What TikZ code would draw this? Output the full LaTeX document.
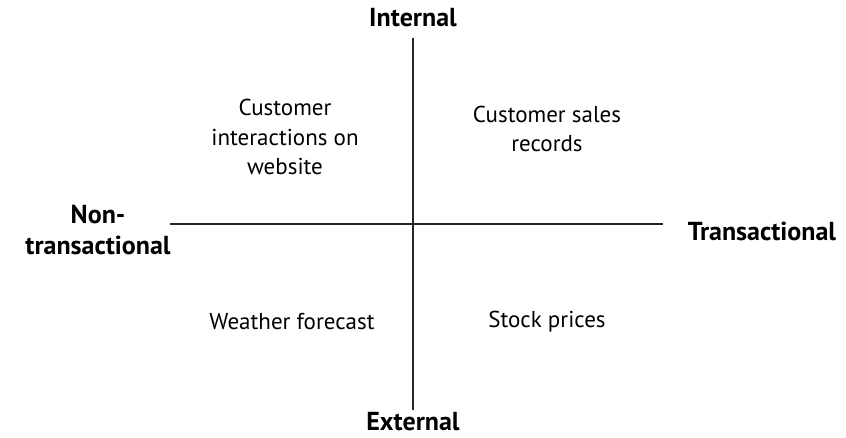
\documentclass[tikz,border=0pt]{standalone}
\usepackage{fontspec}
\setmainfont{PT Sans}
\usepackage{tikz}
\tikzset{
    every node/.style={inner sep=0pt, align=center,
    	font=\fontsize{23}{29.5}\selectfont}
}
\tikzset{
    axislabel/.style={font=\fontsize{26}{31}\selectfont\bfseries}
}
\tikzset{
	axisline/.style={line width=2.2pt, black!85}
}

\begin{document}
\begin{tikzpicture}[x=1pt,y=-1pt]
	\useasboundingbox (0,0) rectangle (846,438);
	\coordinate (top) at (413,38);
	\coordinate (bottom) at (413,410);
	\coordinate (left) at (170,224);
	\coordinate (right) at (663,224);
	
	\node (internal) [axislabel] at (413,18) {Internal};
	\node (external) [axislabel] at (413,422) {External};
	\node (nontrans) [axislabel] at (98,230) {Non-\\transactional};
	\node (trans) [axislabel] at (762,231) {Transactional};
	
	\node (website) at (285,137) {Customer\\interactions on\\website};
	\node (sales) at (547,129) {Customer sales\\records};
	\node (weather) at (292,322) {Weather forecast};
	\node (stock) at (547,322) {Stock prices};
	
	\draw[axisline] (top) -- (bottom);
	\draw[axisline] (left) -- (right);
\end{tikzpicture}
\end{document}
